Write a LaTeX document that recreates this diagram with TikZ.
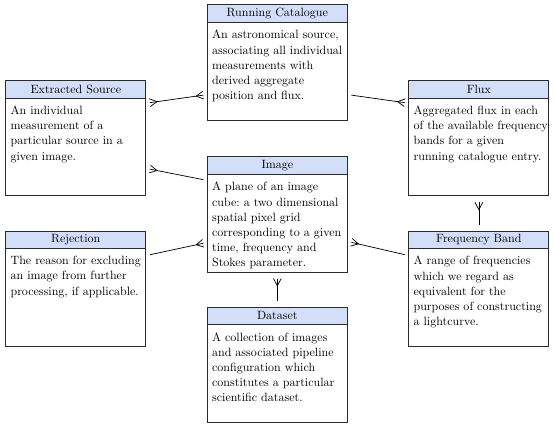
\documentclass[tikz,border=0pt]{standalone}
\usepackage{tikz}
\usetikzlibrary{arrows.meta,positioning}
\definecolor{hdr}{HTML}{D3DEF9}
\definecolor{edge}{HTML}{2B2B2B}
\hyphenpenalty=10000
\exhyphenpenalty=10000
% crow's foot ("many") end of a relation
\pgfdeclarearrow{
  name = Crow,
  parameters = {\the\pgfarrowlength,\the\pgfarrowwidth},
  setup code = {
    \pgfarrowssettipend{0pt}
    \pgfarrowssetlineend{0pt}
    \pgfarrowssetbackend{-\pgfarrowlength}
    \pgfarrowshullpoint{0pt}{.5\pgfarrowwidth}
    \pgfarrowshullpoint{0pt}{-.5\pgfarrowwidth}
    \pgfarrowshullpoint{-\pgfarrowlength}{0pt}
    \pgfarrowssavethe\pgfarrowlength
    \pgfarrowssavethe\pgfarrowwidth
  },
  drawing code = {
    \pgfsetdash{}{0pt}
    \pgfpathmoveto{\pgfqpoint{0pt}{.5\pgfarrowwidth}}
    \pgfpathlineto{\pgfqpoint{-\pgfarrowlength}{0pt}}
    \pgfpathlineto{\pgfqpoint{0pt}{-.5\pgfarrowwidth}}
    \pgfusepathqstroke
  },
  defaults = {length=6pt, width=6.5pt}
}
\tikzset{
  entity/.style={draw=edge, line width=0.8pt, minimum width=4.10cm,
                 minimum height=3.37cm, inner sep=0pt},
  title/.style={draw=edge, fill=hdr, line width=0.8pt, minimum width=4.10cm,
                minimum height=0.51cm, inner sep=0pt, anchor=north,
                font=\fontsize{10}{12.6}\selectfont},
  desc/.style={anchor=north west, text width=112.2pt, align=flush left,
               inner xsep=4.2pt, inner ysep=6pt,
               font=\fontsize{10}{12.6}\selectfont,
               execute at begin node={\frenchspacing\spaceskip=3.333pt plus 1.666pt\relax}},
  link/.style={line width=0.6pt, draw=black, shorten >=3pt, shorten <=3pt},
  vlink/.style={link, shorten >=4.5pt, shorten <=5pt}
}

\begin{document}
\begin{tikzpicture}[x=1cm,y=1cm]
  \useasboundingbox (0,0) rectangle (16.22,12.50);

  \node[entity] (rc) at (8.12,10.67) {};
  \node[title] (rc-t) at (rc.north) {Running Catalogue};
  \node[desc] at (rc-t.south west)
    {An astronomical source, associating all individual measurements with derived aggregate position and flux.};

  \node[entity] (es) at (2.22,8.45) {};
  \node[title] (es-t) at (es.north) {Extracted Source};
  \node[desc] at (es-t.south west)
    {An individual measurement of a particular source in a given image.};

  \node[entity] (flux) at (14.02,8.45) {};
  \node[title] (flux-t) at (flux.north) {Flux};
  \node[desc] at (flux-t.south west)
    {Aggregated flux in each of the available frequency bands for a given running catalogue entry.};

  \node[entity] (img) at (8.12,6.22) {};
  \node[title] (img-t) at (img.north) {Image};
  \node[desc] at (img-t.south west)
    {A plane of an image cube: a two dimensional spatial pixel grid corresponding to a given time, frequency and Stokes parameter.};

  \node[entity] (rej) at (2.22,4.05) {};
  \node[title] (rej-t) at (rej.north) {Rejection};
  \node[desc] at (rej-t.south west)
    {The reason for excluding an image from further processing, if applicable.};

  \node[entity] (band) at (14.02,4.05) {};
  \node[title] (band-t) at (band.north) {Frequency Band};
  \node[desc] at (band-t.south west)
    {A range of frequencies which we regard as equivalent for the purposes of constructing a lightcurve.};

  \node[entity] (ds) at (8.12,1.82) {};
  \node[title] (ds-t) at (ds.north) {Dataset};
  \node[desc] at (ds-t.south west)
    {A collection of images and associated pipeline configuration which constitutes a particular scientific dataset.};

  % relations
  \draw[link,Crow-Crow] ([yshift=-0.67cm]es.north east) -- ([yshift=-2.64cm]rc.north west);
  \draw[link,-Crow] ([yshift=-2.64cm]rc.north east) -- ([yshift=-0.67cm]flux.north west);
  \draw[link,Crow-] ([yshift=-2.58cm]es.north east) -- ([yshift=-0.70cm]img.north west);
  \draw[link,-Crow] ([yshift=-0.73cm]rej.north east) -- ([yshift=-2.52cm]img.north west);
  \draw[link,Crow-] ([yshift=-2.49cm]img.north east) -- ([yshift=-0.73cm]band.north west);
  \draw[vlink,Crow-] (flux.south) -- (band.north);
  \draw[vlink,Crow-] (img.south) -- (ds.north);
\end{tikzpicture}
\end{document}
